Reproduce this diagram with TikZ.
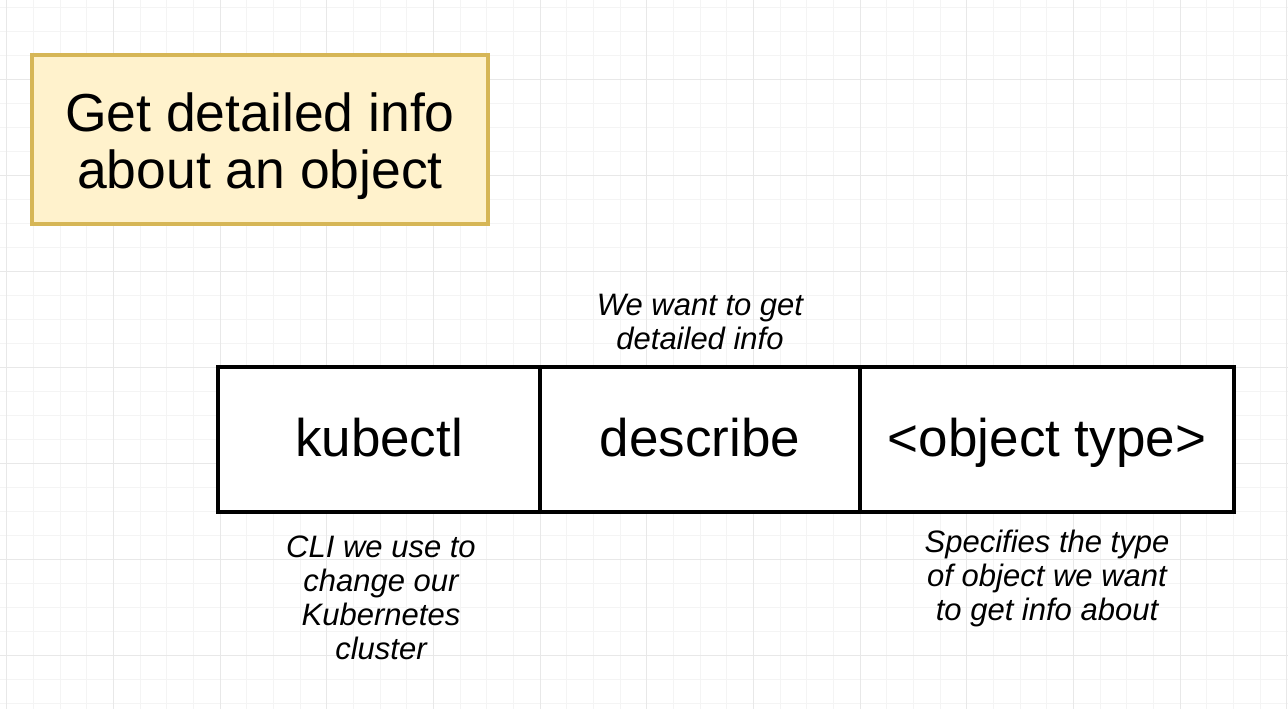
\documentclass[tikz,border=0pt]{standalone}
\usepackage{fontspec}
\setmainfont{Liberation Sans}
\usetikzlibrary{positioning}
\definecolor{titlefill}{HTML}{FFF2CC}
\definecolor{titledraw}{HTML}{D6B656}
\definecolor{minorgrid}{HTML}{F4F4F4}
\definecolor{majorgrid}{HTML}{E8E8E8}
\tikzset{
  cell/.style={draw=black, line width=4pt, fill=white, minimum width=#1,
    minimum height=145pt, outer sep=0pt, inner sep=0pt,
    text height=35pt, text depth=0pt,
    font=\fontsize{53}{60}\selectfont},
  note/.style={align=center, font=\fontsize{31}{34}\selectfont\itshape},
}
\begin{document}
\begin{tikzpicture}[x=1pt, y=1pt] % pixel units, y measured from bottom
        \useasboundingbox (0,0) rectangle (1288,709);
        \fill[white] (0,0) rectangle (1288,709);

        % Grid
        \foreach \i in {0,...,48}
            \draw[minorgrid, line width=1pt] ({6.667+26.667*\i},0) -- ({6.667+26.667*\i},709);
        \foreach \j in {0,...,29}
            \draw[minorgrid, line width=1pt] (0,{701-24*\j}) -- (1288,{701-24*\j});
        \foreach \i in {0,...,12}
            \draw[majorgrid, line width=1pt] ({6.667+106.667*\i},0) -- ({6.667+106.667*\i},709);
        \foreach \j in {1,...,7}
            \draw[majorgrid, line width=1pt] (0,{725-96*\j}) -- (1288,{725-96*\j});

        % Title
        \node[draw=titledraw, fill=titlefill, line width=4pt, minimum width=456pt,
              minimum height=169pt] (title) at (260,569.5) {};
        \node[align=center, font=\fontsize{53.5}{57}\selectfont] (titletext)
              at (260,563) {Get detailed info\\about an object};

        % Command parts
        \node[cell=322pt] (kubectl) at (379,269.5) {kubectl};
        \node[cell=320pt, right=0pt of kubectl] (describe) {describe};
        \node[cell=374pt, right=0pt of describe] (objtype) {<object type>};

        % Notes
        \node[note] (describenote) at (700,387) {We want to get\\detailed info};
        \node[note] (kubectlnote) at (381,111) {CLI we use to\\change our\\Kubernetes\\cluster};
        \node[note] (objtypenote) at (1047,131) {Specifies the type\\of object we want\\to get info about};
\end{tikzpicture}
\end{document}
